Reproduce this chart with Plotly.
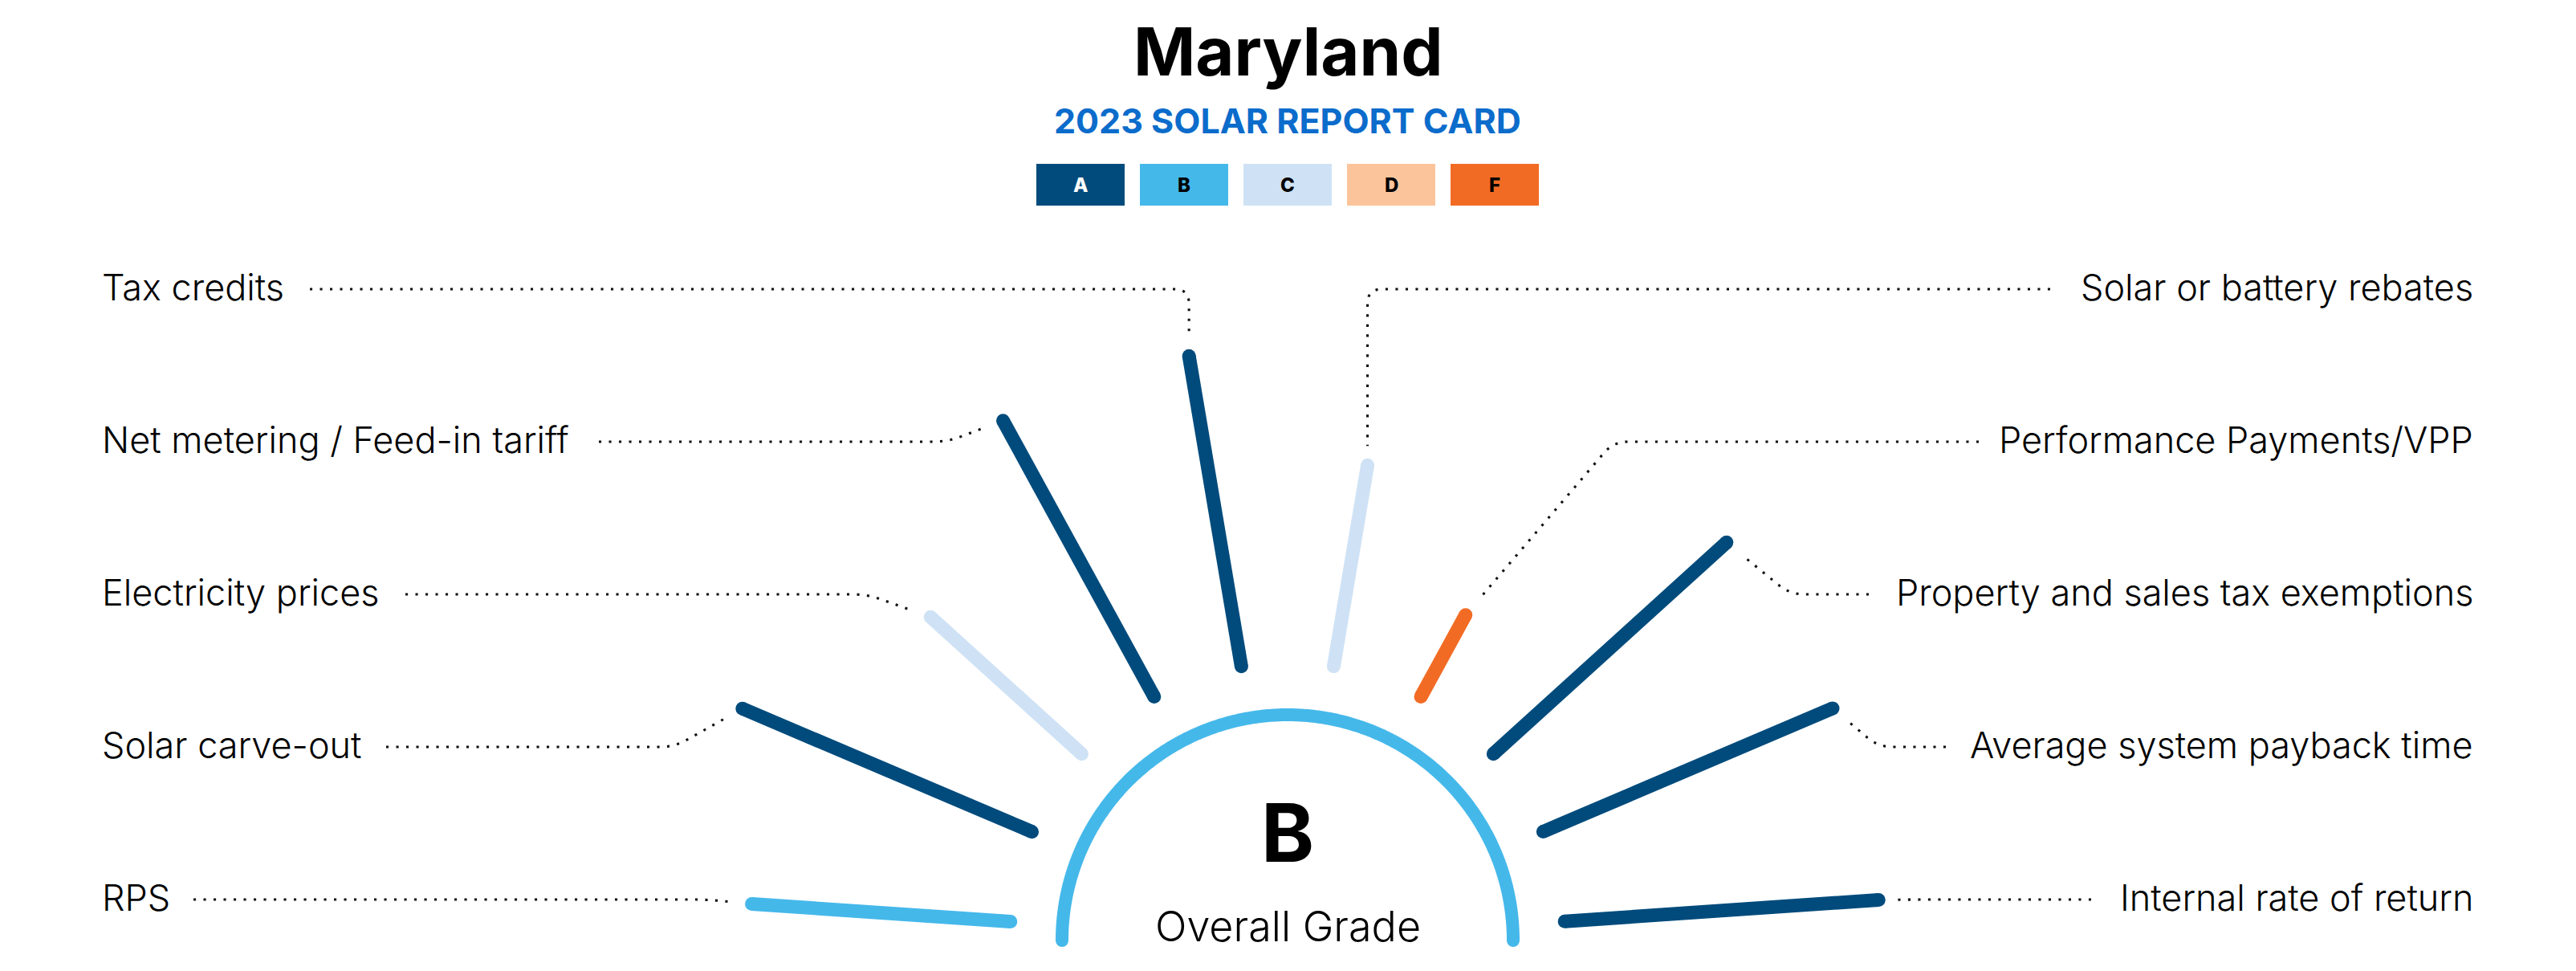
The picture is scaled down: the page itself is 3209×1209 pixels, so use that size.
import numpy as np
import plotly.graph_objects as go

# ---------------- data ----------------
state_name = "Maryland"
report_title = "2023 SOLAR REPORT CARD"

grade_levels = ["A", "B", "C", "D", "F"]
grade_scores = [5, 4, 3, 2, 1]
grade_colors = ["#004B7C", "#45B8EA", "#CFE2F5", "#FCC49B", "#F26B25"]
grade_text_colors = ["#FFFFFF", "#000000", "#000000", "#000000", "#000000"]

# ordered left -> right around the half circle
categories = [
    "RPS",
    "Solar carve-out",
    "Electricity prices",
    "Net metering / Feed-in tariff",
    "Tax credits",
    "Solar or battery rebates",
    "Performance Payments/VPP",
    "Property and sales tax exemptions",
    "Average system payback time",
    "Internal rate of return",
]
category_grades = ["B", "A", "C", "A", "A", "C", "F", "A", "A", "A"]

overall_grade = "B"
overall_label = "Overall Grade"

# ---------------- layout constants ----------------
W, H = 3209, 1209
CX, CY = 1604, 1171          # centre of the gauge (pixel units)
ARC_R = 281                  # overall-grade arc radius
R_IN = 346                   # inner radius of rays
R_BASE, R_STEP = 393, 69     # outer radius = R_BASE + R_STEP * score
ANG_LEFT, ANG_STEP = 176.1, 19.13
RAY_W = 17
ARC_W = 16

ROW_Y0, ROW_DY = 357, 190
LEFT_X, RIGHT_X = 125, 3083
FONT = "Inter"
FONT_LIGHT = "Inter Light, Inter"

# leader line geometry (per category, same order): text-side end x, corner x
leader_text_end_x = [241, 481, 505, 746, 386, 2554, 2465, 2328, 2424, 2605]
leader_corner_x = [880, 840, 1080, 1180, None, None, 2010, 2230, 2340, 2400]
label_side = ["L", "L", "L", "L", "L", "R", "R", "R", "R", "R"]
label_row = [4, 3, 2, 1, 0, 0, 1, 2, 3, 4]

score_of = dict(zip(grade_levels, grade_scores))
color_of = dict(zip(grade_levels, grade_colors))

fig = go.Figure()


def unit(v):
    n = np.hypot(v[0], v[1])
    return v / n if n > 0 else v


def leader_path(E, C, S, rr=18, n=12):
    E, C, S = map(lambda p: np.array(p, dtype=float), (E, C, S))
    u1 = unit(C - E)
    u2 = unit(S - C)
    r = min(rr, np.hypot(*(C - E)) / 2, np.hypot(*(S - C)) / 2)
    P1 = C - u1 * r
    P2 = C + u2 * r
    t = np.linspace(0, 1, n)[:, None]
    bez = (1 - t) ** 2 * P1 + 2 * (1 - t) * t * C + t ** 2 * P2
    pts = np.vstack([E, bez, S])
    return pts[:, 0], pts[:, 1]


# ---- leader lines (drawn first, under rays) ----
tips = []
for i, g in enumerate(category_grades):
    th = np.deg2rad(ANG_LEFT - i * ANG_STEP)
    r_out = R_BASE + R_STEP * score_of[g]
    tips.append((CX + r_out * np.cos(th), CY - r_out * np.sin(th)))

for i, cat in enumerate(categories):
    tip = np.array(tips[i])
    row_y = ROW_Y0 + ROW_DY * label_row[i] + 3
    cx = leader_corner_x[i] if leader_corner_x[i] is not None else tip[0]
    C = np.array([cx, row_y])
    S = tip + 24 * unit(C - tip)
    E = np.array([leader_text_end_x[i], row_y])
    xs, ys = leader_path(E, C, S)
    fig.add_trace(go.Scatter(
        x=xs, y=ys, mode="lines",
        line=dict(color="#111111", width=3.1, dash="3.1px,9.4px", simplify=False),
        hoverinfo="skip", showlegend=False))

# ---- rays ----
for i, (cat, g) in enumerate(zip(categories, category_grades)):
    th = np.deg2rad(ANG_LEFT - i * ANG_STEP)
    r = np.array([R_IN, R_BASE + R_STEP * score_of[g]])
    xs = CX + r * np.cos(th)
    ys = CY - r * np.sin(th)
    col = color_of[g]
    fig.add_trace(go.Scatter(
        x=xs, y=ys, mode="lines+markers",
        line=dict(color=col, width=RAY_W),
        marker=dict(size=RAY_W, color=col, line=dict(width=0)),
        name=cat, hoverinfo="skip", showlegend=False))

# ---- overall grade arc ----
ang = np.linspace(0, np.pi, 361)
arc_col = color_of[overall_grade]
fig.add_trace(go.Scatter(
    x=CX + ARC_R * np.cos(ang), y=CY - ARC_R * np.sin(ang), mode="lines",
    line=dict(color=arc_col, width=ARC_W, simplify=False), hoverinfo="skip", showlegend=False))
fig.add_trace(go.Scatter(
    x=[CX + ARC_R, CX - ARC_R], y=[CY, CY], mode="markers",
    marker=dict(size=ARC_W, color=arc_col, line=dict(width=0)),
    hoverinfo="skip", showlegend=False))

annotations = []
shapes = []

# ---- title ----
annotations.append(dict(x=CX, y=64, text=state_name, showarrow=False, xanchor="center", yanchor="middle",
                        font=dict(family=FONT, size=83, color="#000000", weight=700)))
annotations.append(dict(x=CX, y=149.5, text=report_title, showarrow=False, xanchor="center", yanchor="middle",
                        font=dict(family=FONT, size=43, color="#0B6CCB", weight=700)))

# ---- grade legend ----
BOX_W, BOX_H, BOX_STRIDE, BOX_Y = 110, 52, 129, 230
for k, (g, col, tcol) in enumerate(zip(grade_levels, grade_colors, grade_text_colors)):
    bx = CX + (k - 2) * BOX_STRIDE
    shapes.append(dict(type="rect", xref="x", yref="y", x0=bx - BOX_W / 2, x1=bx + BOX_W / 2,
                       y0=BOX_Y - BOX_H / 2, y1=BOX_Y + BOX_H / 2, fillcolor=col, line=dict(width=0),
                       layer="below"))
    annotations.append(dict(x=bx, y=BOX_Y, text=g, showarrow=False, xanchor="center", yanchor="middle",
                            font=dict(family=FONT, size=24, color=tcol, weight=800)))

# ---- labels ----
for i, cat in enumerate(categories):
    y = ROW_Y0 + ROW_DY * label_row[i]
    left = label_side[i] == "L"
    annotations.append(dict(x=LEFT_X if left else RIGHT_X, y=y, text=cat, showarrow=False,
                            xanchor="left" if left else "right", yanchor="middle",
                            font=dict(family=FONT_LIGHT, size=45, color="#000000", weight=300)))

# ---- centre text ----
annotations.append(dict(x=CX, y=1036, text=overall_grade, showarrow=False, xanchor="center", yanchor="middle",
                        font=dict(family=FONT, size=100, color="#000000", weight=700)))
annotations.append(dict(x=CX, y=1153, text=overall_label, showarrow=False, xanchor="center", yanchor="middle",
                        font=dict(family=FONT_LIGHT, size=52, color="#000000", weight=300)))

fig.update_layout(
    width=W, height=H,
    margin=dict(l=0, r=0, t=0, b=0),
    paper_bgcolor="#FFFFFF", plot_bgcolor="#FFFFFF",
    xaxis=dict(range=[0, W], visible=False, fixedrange=True),
    yaxis=dict(range=[H, 0], visible=False, fixedrange=True),
    annotations=annotations, shapes=shapes,
    showlegend=False,
)

fig.write_html("out.html", config={"displayModeBar": False},
               post_script="document.body.style.margin='0';document.body.style.overflow='hidden';")
